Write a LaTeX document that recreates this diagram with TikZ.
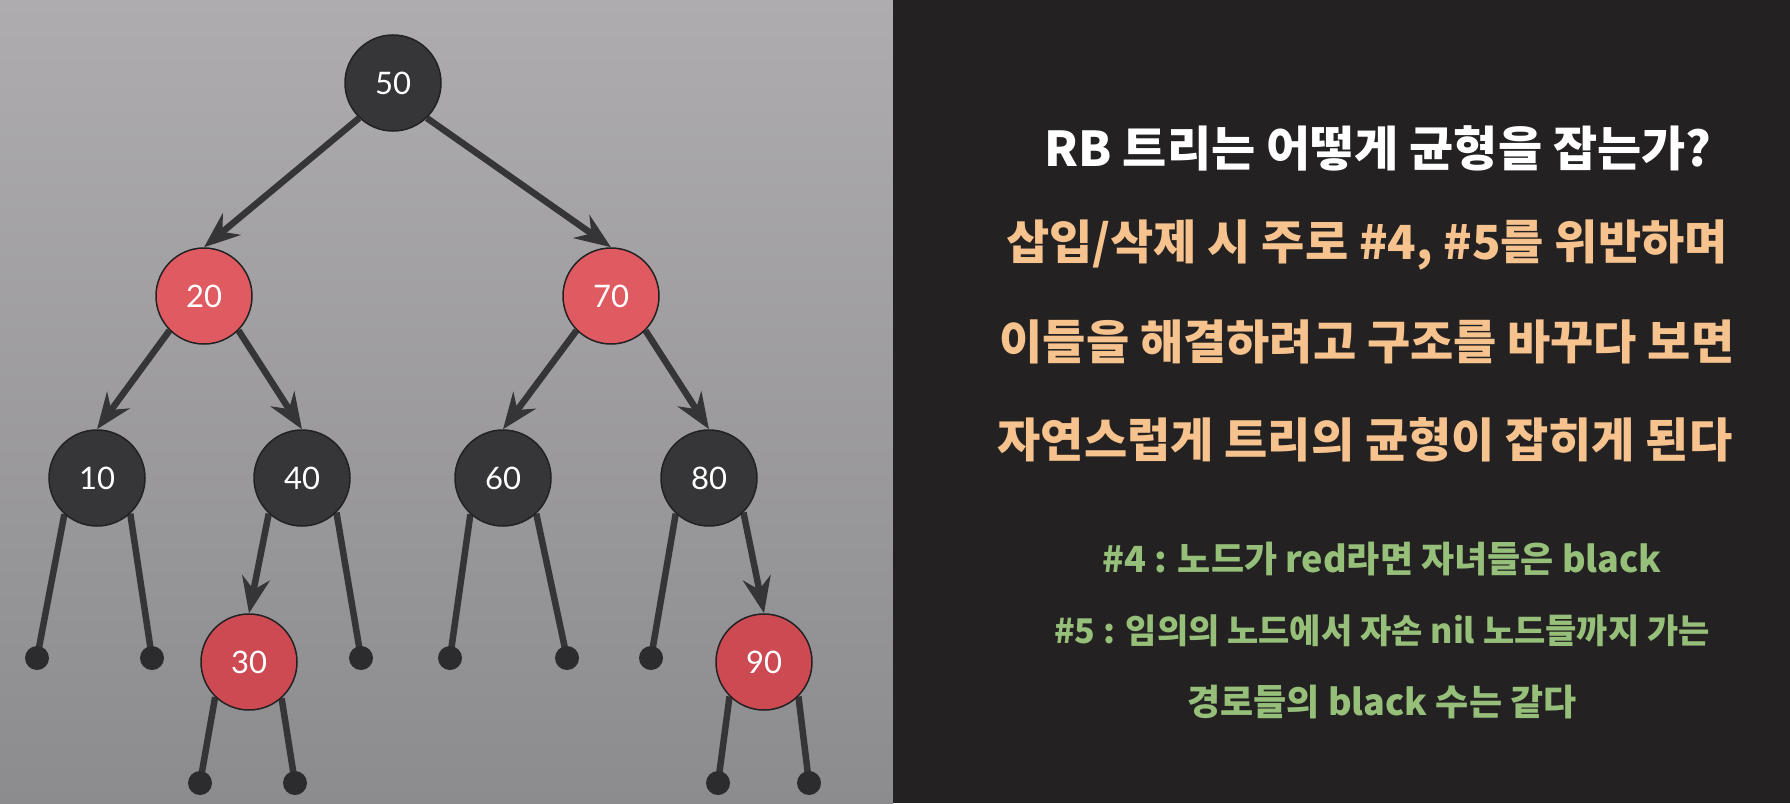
\documentclass[tikz,border=0pt]{standalone}
\usepackage{fontspec}
\setmainfont{Lato}
\newfontfamily\kr{Noto Sans CJK KR}
\usetikzlibrary{arrows.meta}
\definecolor{panelTop}{HTML}{AEACAF}
\definecolor{panelBot}{HTML}{8C8B8E}
\definecolor{darkbg}{HTML}{232121}
\definecolor{nodeblack}{HTML}{363538}
\definecolor{nodeline}{HTML}{222123}
\definecolor{nodered}{HTML}{E05A61}
\definecolor{nodereddark}{HTML}{CD4A52}
\definecolor{nilcol}{HTML}{2C2B2D}
\definecolor{edgecol}{HTML}{353436}
\definecolor{peach}{HTML}{F6C28E}
\definecolor{leaf}{HTML}{96C07A}
\pgfdeclarelayer{bg}
\pgfdeclarelayer{edges}
\pgfsetlayers{bg,edges,main}
\tikzset{
  bnode/.style={circle, minimum size=96pt, inner sep=0pt, fill=nodeblack, draw=nodeline, line width=1.5pt, text=white, font=\fontsize{31}{31}\selectfont},
  rnode/.style={bnode, fill=nodered},
  rnoded/.style={bnode, fill=nodereddark},
  nildot/.style={circle, minimum size=24pt, inner sep=0pt, fill=nilcol},
  tedge/.style={line width=6.5pt, draw=edgecol},
  tarr/.style={tedge, -{Stealth[length=36pt,width=28pt,inset=12pt]}},
  titletext/.style={text=white, font=\kr\bfseries\fontsize{48}{48}\selectfont, inner sep=0pt},
  bodytext/.style={text=peach, font=\kr\bfseries\fontsize{47}{47}\selectfont, inner sep=0pt},
  ruletext/.style={text=leaf, font=\kr\bfseries\fontsize{36}{36}\selectfont, inner sep=0pt}
}
\begin{document}
\begin{tikzpicture}[x=1pt,y=-1pt]
\useasboundingbox (0,0) rectangle (1790,803);
\begin{pgfonlayer}{bg}
\shade[top color=panelTop, bottom color=panelBot] (0,0) rectangle (893,803);
\fill[darkbg] (893,0) rectangle (1790,803);
\end{pgfonlayer}

% tree nodes
\node[bnode] (n50) at (393,83) {50};
\node[rnode] (n20) at (204,296) {20};
\node[rnode] (n70) at (611,296) {70};
\node[bnode] (n10) at (97,478) {10};
\node[bnode] (n40) at (302,478) {40};
\node[bnode] (n60) at (503,478) {60};
\node[bnode] (n80) at (709,478) {80};
\node[rnoded] (n30) at (249,662) {30};
\node[rnoded] (n90) at (764,662) {90};

% nil leaves
\node[nildot] (a1) at (37,658) {};
\node[nildot] (a2) at (152,658) {};
\node[nildot] (a3) at (361,658) {};
\node[nildot] (a4) at (450,658) {};
\node[nildot] (a5) at (567,658) {};
\node[nildot] (a6) at (651,658) {};
\node[nildot] (b1) at (200,783) {};
\node[nildot] (b2) at (295,783) {};
\node[nildot] (b3) at (718,783) {};
\node[nildot] (b4) at (809,783) {};

\begin{pgfonlayer}{edges}
\draw[tarr] (n50.226) -- (n20.north);
\draw[tarr] (n50.314) -- (n70.north);
\draw[tarr] (n20.225) -- (n10.north);
\draw[tarr] (n20.315) -- (n40.north);
\draw[tarr] (n70.225) -- (n60.north);
\draw[tarr] (n70.315) -- (n80.north);
\draw[tarr] (n40.227) -- (n30.north);
\draw[tarr] (n80.315) -- (n90.north);
\draw[tedge] (n10.228) -- (a1.center);
\draw[tedge] (n10.313) -- (a2.center);
\draw[tedge] (n40.315) -- (a3.center);
\draw[tedge] (n60.228) -- (a4.center);
\draw[tedge] (n60.313) -- (a5.center);
\draw[tedge] (n80.227) -- (a6.center);
\draw[tedge] (n30.226) -- (b1.center);
\draw[tedge] (n30.312) -- (b2.center);
\draw[tedge] (n90.225) -- (b3.center);
\draw[tedge] (n90.315) -- (b4.center);
\end{pgfonlayer}

% right panel text
\node[titletext] (t1) at (1378,148) {RB 트리는 어떻게 균형을 잡는가?};
\node[bodytext] (t2) at (1367,245) {삽입/삭제 시 주로 \#4, \#5를 위반하며};
\node[bodytext] (t3) at (1367,342) {이들을 해결하려고 구조를 바꾸다 보면};
\node[bodytext] (t4) at (1365,440) {자연스럽게 트리의 균형이 잡히게 된다};
\node[ruletext] (r1) at (1382,559) {\#4 : 노드가 red라면 자녀들은 black};
\node[ruletext, font=\kr\bfseries\fontsize{34}{34}\selectfont] (r2) at (1382,631) {\#5 : 임의의 노드에서 자손 nil 노드들까지 가는};
\node[ruletext] (r3) at (1382,702) {경로들의 black 수는 같다};
\end{tikzpicture}
\end{document}
